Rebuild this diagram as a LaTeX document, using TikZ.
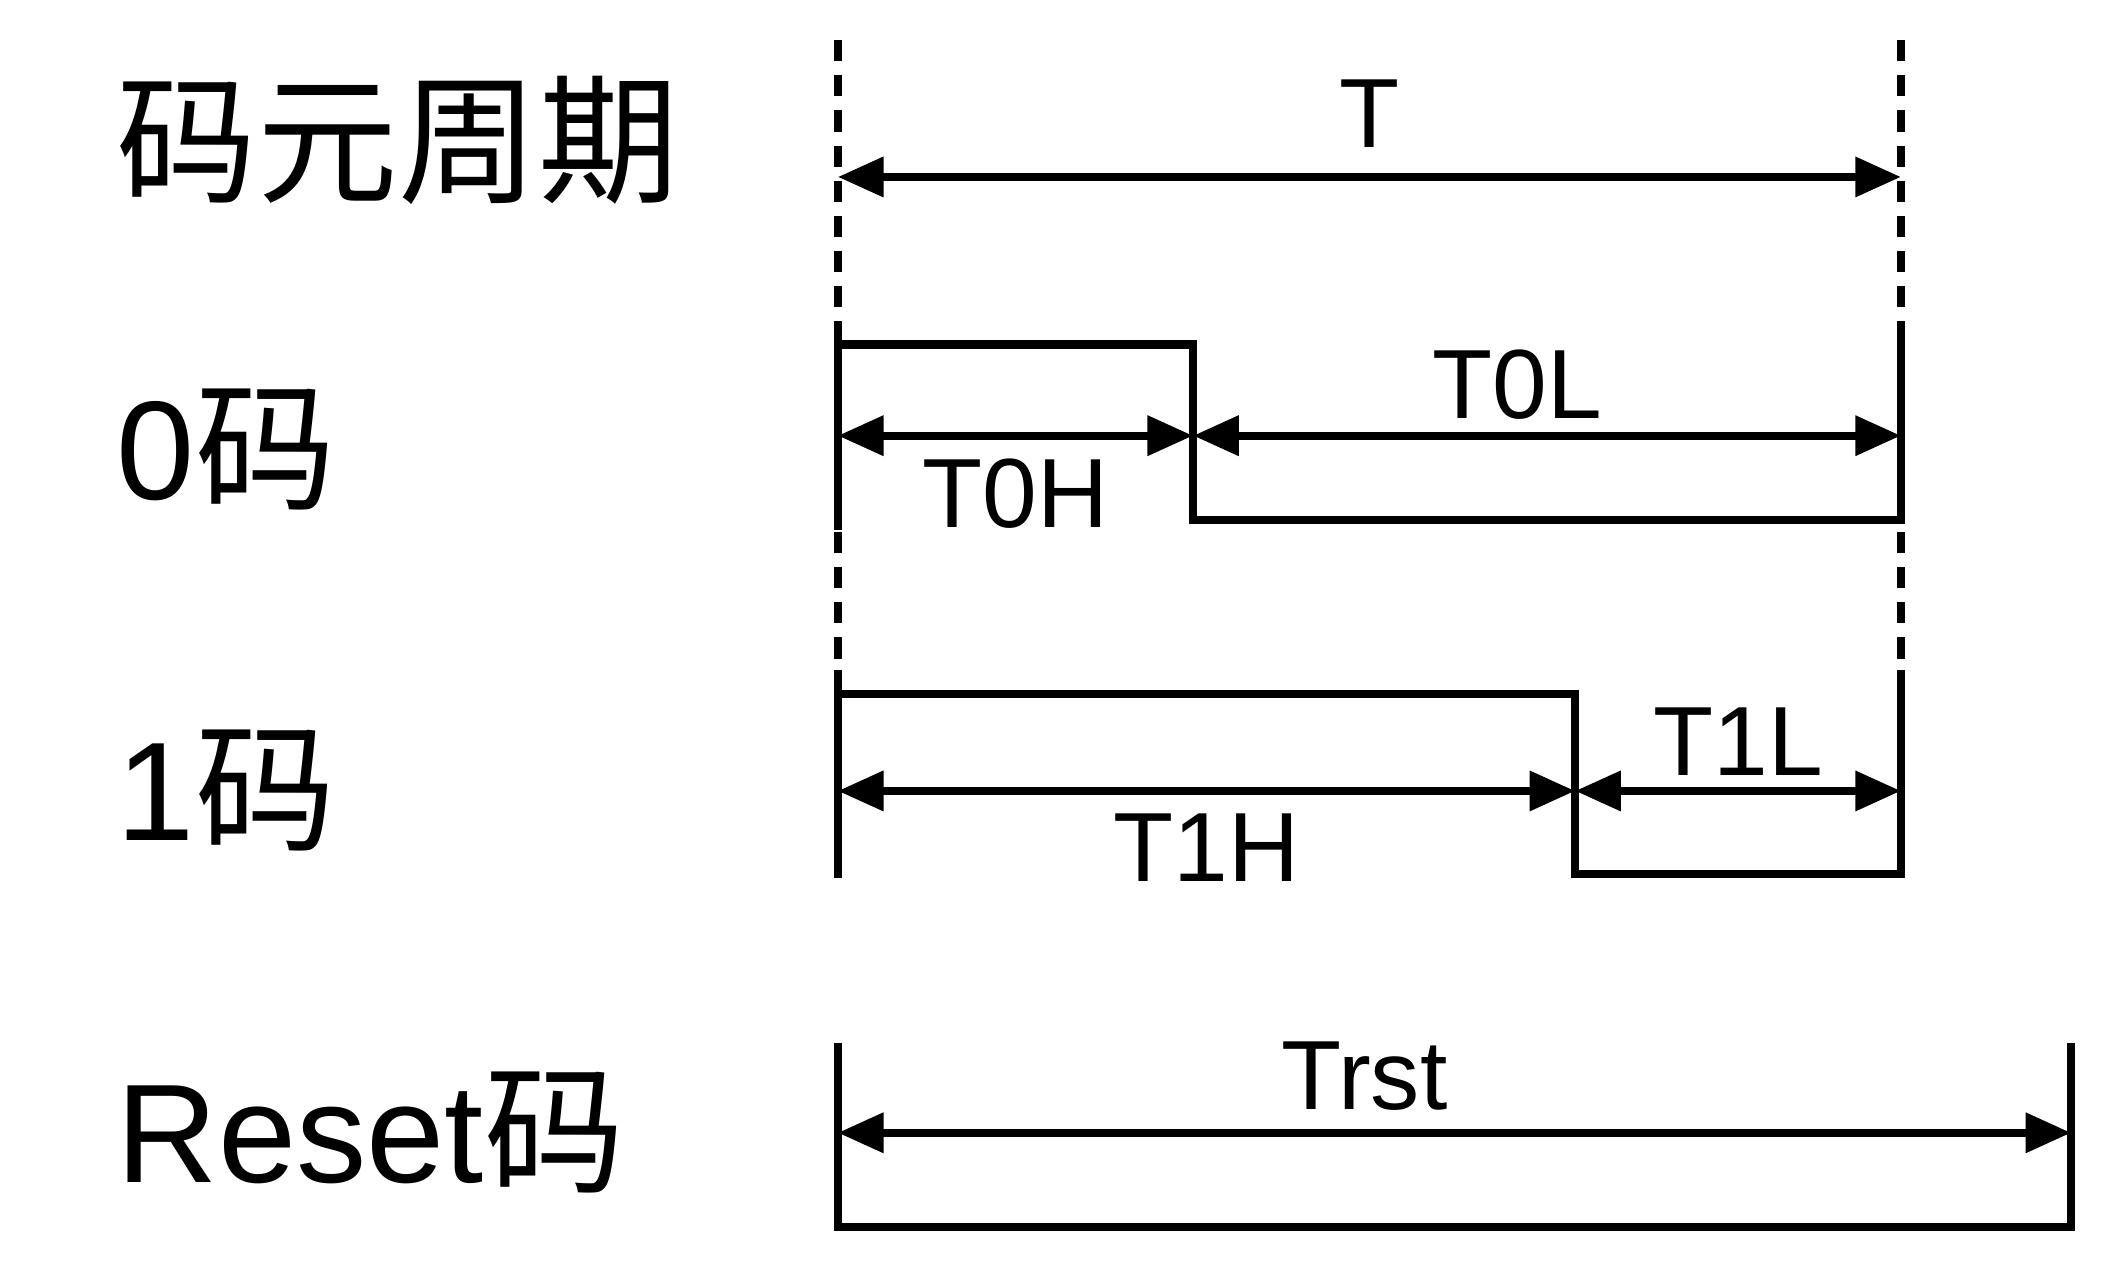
\documentclass[tikz,border=0pt]{standalone}
\usepackage{fontspec}
\setmainfont{Liberation Sans}
\newfontfamily\cjk{Noto Sans CJK SC}
\usetikzlibrary{arrows.meta, positioning, calc}
\begin{document}
\begin{tikzpicture}[
    x=0.013406cm, y=-0.013406cm,
    wave/.style={line width=2.3pt},
    guide/.style={line width=2.3pt, dash pattern=on 6pt off 4pt},
    dim/.style={{Triangle[length=13pt,width=11pt]}-{Triangle[length=13pt,width=11pt]}, line width=2.3pt},
    rowlabel/.style={anchor=west, font=\fontsize{40}{44}\selectfont},
    timelabel/.style={font=\fontsize{28}{32}\selectfont}
]
\useasboundingbox (0,0) rectangle (1568,941);

% Row labels
\node[rowlabel] (lperiod) at (78,105) {\cjk 码元周期};
\node[rowlabel] (lzero) at (78,335) {0{\cjk 码}};
\node[rowlabel] (lone) at (78,590) {1{\cjk 码}};
\node[rowlabel] (lreset) at (78,845) {Reset{\cjk 码}};

% Guides
\coordinate (gla) at (625,30);
\coordinate (glb) at (625,500);
\coordinate (gra) at (1418,30);
\coordinate (grb) at (1418,500);
\draw[guide] (gla) -- (glb);
\draw[guide] (gra) -- (grb);

% Period
\coordinate (ta) at (625,132);
\coordinate (tb) at (1418,132);
\draw[dim] (ta) -- node[timelabel, above=4pt] (lt) {T} (tb);

% 0 code
\draw[wave] (625,240) -- (625,395);
\draw[wave] (625,257) -- (890,257) -- (890,388) -- (1418,388) -- (1418,240);
\coordinate (za) at (625,325);
\coordinate (zm) at (890,325);
\coordinate (zb) at (1418,325);
\draw[dim] (za) -- node[timelabel, below=2pt] (lt0h) {T0H} (zm);
\draw[dim] (zm) -- node[timelabel, above=0pt, xshift=-0.3cm] (lt0l) {T0L} (zb);

% 1 code
\draw[wave] (625,500) -- (625,655);
\draw[wave] (625,518) -- (1175,518) -- (1175,652) -- (1418,652) -- (1418,500);
\coordinate (oa) at (625,590);
\coordinate (om) at (1175,590);
\coordinate (ob) at (1418,590);
\draw[dim] (oa) -- node[timelabel, below=2pt] (lt1h) {T1H} (om);
\draw[dim] (om) -- node[timelabel, above=0pt] (lt1l) {T1L} (ob);

% Reset code
\draw[wave] (625,778) -- (625,915) -- (1545,915) -- (1545,778);
\coordinate (ra) at (625,845);
\coordinate (rb) at (1545,845);
\draw[dim] (ra) -- node[timelabel, above=2pt, xshift=-0.9cm] (ltrst) {Trst} (rb);

\end{tikzpicture}
\end{document}
